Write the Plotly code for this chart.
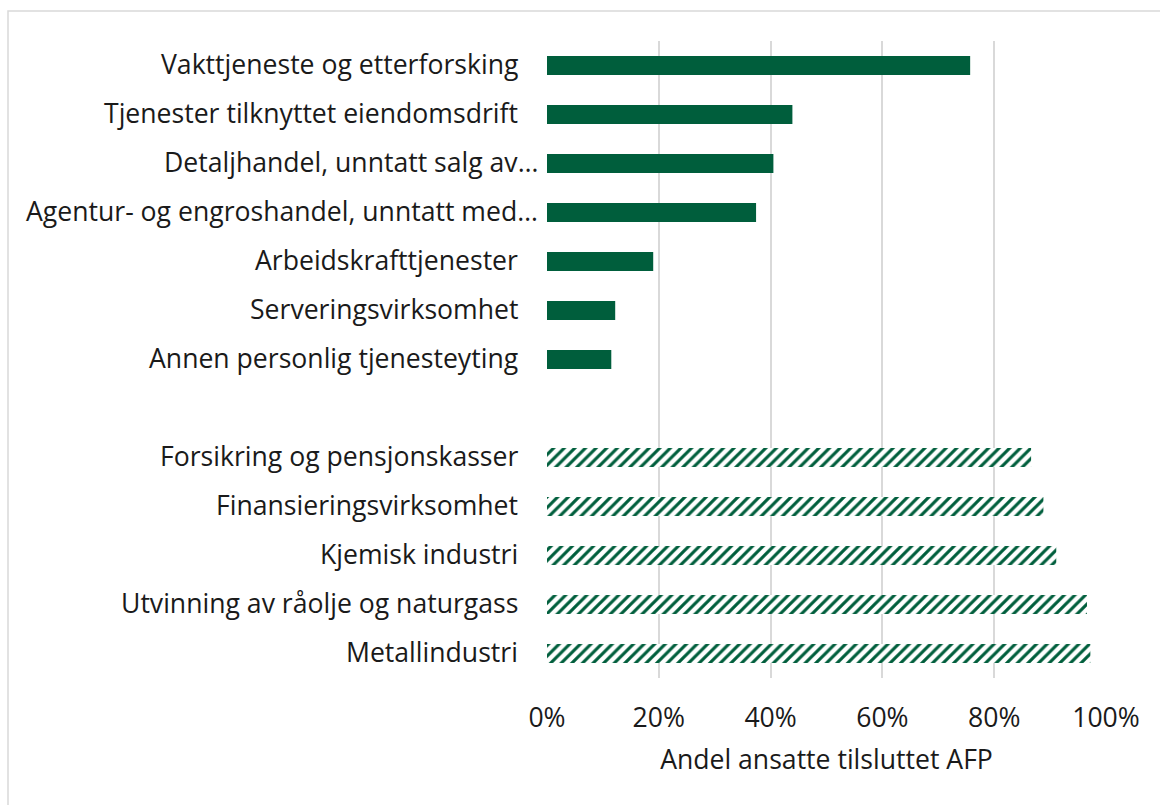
import plotly.graph_objects as go

# Data
solid_categories = [
    "Vakttjeneste og etterforsking",
    "Tjenester tilknyttet eiendomsdrift",
    "Detaljhandel, unntatt salg av…",
    "Agentur- og engroshandel, unntatt med…",
    "Arbeidskrafttjenester",
    "Serveringsvirksomhet",
    "Annen personlig tjenesteyting",
]
solid_values = [0.757, 0.439, 0.405, 0.374, 0.190, 0.122, 0.115]

hatched_categories = [
    "Forsikring og pensjonskasser",
    "Finansieringsvirksomhet",
    "Kjemisk industri",
    "Utvinning av råolje og naturgass",
    "Metallindustri",
]
hatched_values = [0.866, 0.888, 0.911, 0.966, 0.972]

x_ticks = [0, 0.2, 0.4, 0.6, 0.8, 1.0]
x_ticktext = ["0%", "20%", "40%", "60%", "80%", "100%"]
x_title = "Andel ansatte tilsluttet AFP"

GREEN = "#005E3C"
FONT = "Open Sans"
FS = 26.6
TXT = "#1a1a1a"

solid_pos = list(range(len(solid_categories)))
hatched_pos = [len(solid_categories) + 1 + i for i in range(len(hatched_categories))]

fig = go.Figure()
fig.add_trace(go.Bar(
    y=solid_pos, x=solid_values, orientation="h",
    marker=dict(color=GREEN, line=dict(width=0)),
    width=0.39, showlegend=False,
))
fig.add_trace(go.Bar(
    y=hatched_pos, x=hatched_values, orientation="h",
    marker=dict(color="white", line=dict(width=0),
                pattern=dict(shape="/", fgcolor=GREEN, bgcolor="white",
                             size=7.5, solidity=0.42, fillmode="replace")),
    width=0.39, showlegend=False,
))

# Category labels as annotations (ellipsis labels extend a bit further, as in original)
annotations = []
for cat, pos in zip(solid_categories + hatched_categories, solid_pos + hatched_pos):
    end_px = 540 if cat.endswith("…") else 520
    annotations.append(dict(
        x=(end_px - 547) / 559, xref="paper", y=pos, yref="y",
        text=cat, showarrow=False, xanchor="right", yanchor="middle", yshift=2,
        font=dict(family=FONT, size=FS, color=TXT),
    ))

L, R, T, B = 547, 54, 41, 127
W, H = 1160, 805
pw, ph = W - L - R, H - T - B

fig.update_layout(
    width=W, height=H,
    margin=dict(l=L, r=R, t=T, b=B, pad=0),
    paper_bgcolor="white", plot_bgcolor="white",
    font=dict(family=FONT, size=FS, color=TXT),
    annotations=annotations,
    shapes=[dict(
        type="rect", xref="paper", yref="paper",
        x0=(8 - L) / pw, x1=1.3, y0=-0.4, y1=(H - B - 11) / ph,
        line=dict(color="#d9d9d9", width=1.5), fillcolor="rgba(0,0,0,0)", layer="below",
    )],
    xaxis=dict(
        range=[0, 1.0], tickvals=x_ticks, ticktext=x_ticktext,
        showgrid=True, gridcolor="#d9d9d9", gridwidth=1.5,
        zeroline=False, showline=False, ticks="",
        ticklabelstandoff=21,
        tickfont=dict(family=FONT, size=FS, color=TXT),
        title=dict(text=x_title, font=dict(family=FONT, size=FS, color=TXT), standoff=16),
        fixedrange=True,
    ),
    yaxis=dict(
        range=[12.5, -0.5], tickvals=[], showgrid=False, zeroline=False,
        showline=False, showticklabels=False, fixedrange=True,
    ),
)

fig.write_html("out.html", config={"displayModeBar": False},
               post_script="document.body.style.margin='0';document.body.style.overflow='hidden';")
